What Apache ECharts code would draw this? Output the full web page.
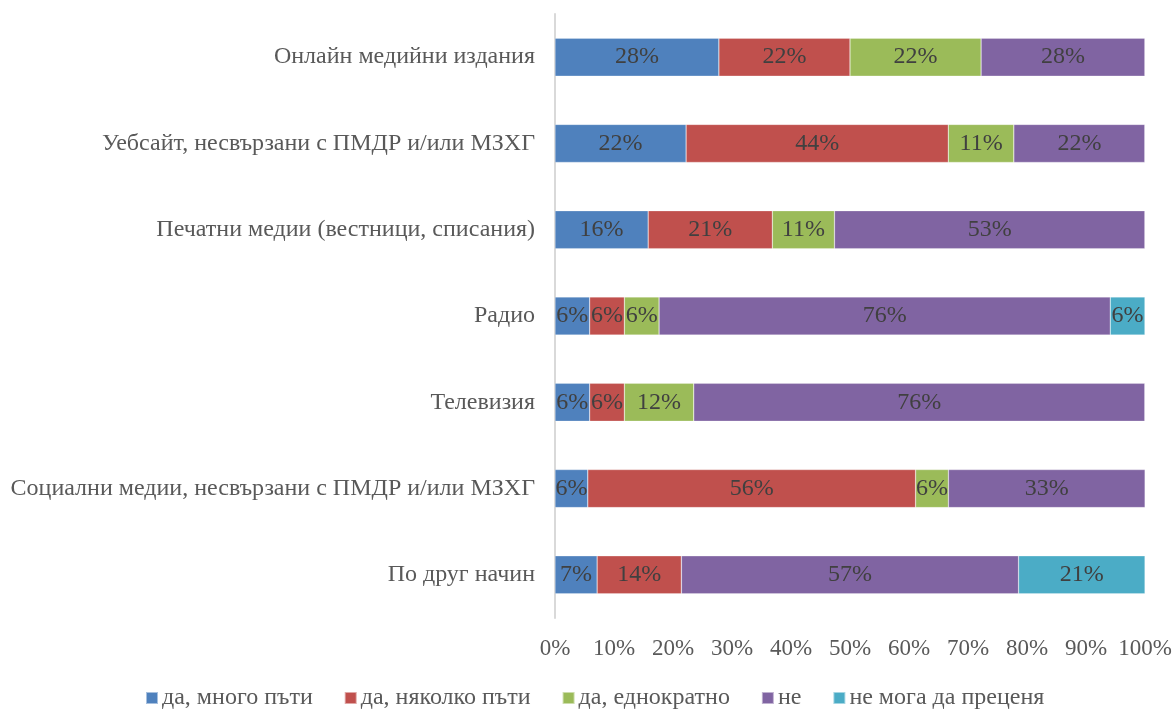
<!DOCTYPE html>
<html><head><meta charset="utf-8">
<script src="https://cdn.jsdelivr.net/npm/echarts@6/dist/echarts.min.js"></script>
<style>html,body{margin:0;padding:0;background:#fff}#c{width:1176px;height:709px}</style>
</head><body><div id="c"></div>
<script>
const categories = ['Онлайн медийни издания','Уебсайт, несвързани с ПМДР и/или МЗХГ','Печатни медии (вестници, списания)','Радио','Телевизия','Социални медии, несвързани с ПМДР и/или МЗХГ','По друг начин'];
const seriesNames = ['да, много пъти','да, няколко пъти','да, еднократно','не','не мога да преценя'];
const colors = ['#4F81BD','#C0504D','#9BBB59','#8064A2','#4BACC6'];
const manyTimes   = [27.78, 22.22, 15.79, 5.88, 5.88, 5.56, 7.14];
const severalTimes= [22.22, 44.44, 21.05, 5.88, 5.88, 55.56, 14.29];
const once        = [22.22, 11.11, 10.53, 5.88, 11.76, 5.56, 0];
const no          = [27.78, 22.22, 52.63, 76.47, 76.47, 33.33, 57.14];
const cannotSay   = [0, 0, 0, 5.88, 0, 0, 21.43];
const xTicks = [0,10,20,30,40,50,60,70,80,90,100];
const values = [manyTimes, severalTimes, once, no, cannotSay];
const font = '"Liberation Serif","Times New Roman",serif';
const chart = echarts.init(document.getElementById('c'));
chart.setOption({
  animation:false,
  textStyle:{fontFamily:font},
  legend:{top:681,left:140,itemWidth:12,itemHeight:12,itemGap:31,icon:'rect',
    textStyle:{fontFamily:font,fontSize:24,color:'#595959',padding:[0,0,0,-1]},data:seriesNames},
  grid:{left:555,right:31,top:14,bottom:91,containLabel:false},
  xAxis:{type:'value',min:xTicks[0],max:xTicks[xTicks.length-1],interval:10,
    axisLine:{show:false},axisTick:{show:false},splitLine:{show:false},
    axisLabel:{formatter:'{value}%',fontFamily:font,fontSize:23,color:'#595959',margin:19}},
  yAxis:{type:'category',inverse:true,data:categories,
    axisLine:{show:true,lineStyle:{color:'#D9D9D9',width:2}},axisTick:{show:false},
    axisLabel:{fontFamily:font,fontSize:24,color:'#595959',margin:20}},
  series: seriesNames.map((n,i)=>({
    name:n,type:'bar',stack:'t',barWidth:38,
    itemStyle:{color:colors[i],borderColor:'rgba(255,255,255,0.5)',borderWidth:0.5},
    label:{show:true,position:'inside',fontFamily:font,fontSize:24,color:'#404040',
      formatter:p=>p.value>0?Math.round(p.value)+'%':''},
    data:values[i]
  }))
});
</script></body></html>
